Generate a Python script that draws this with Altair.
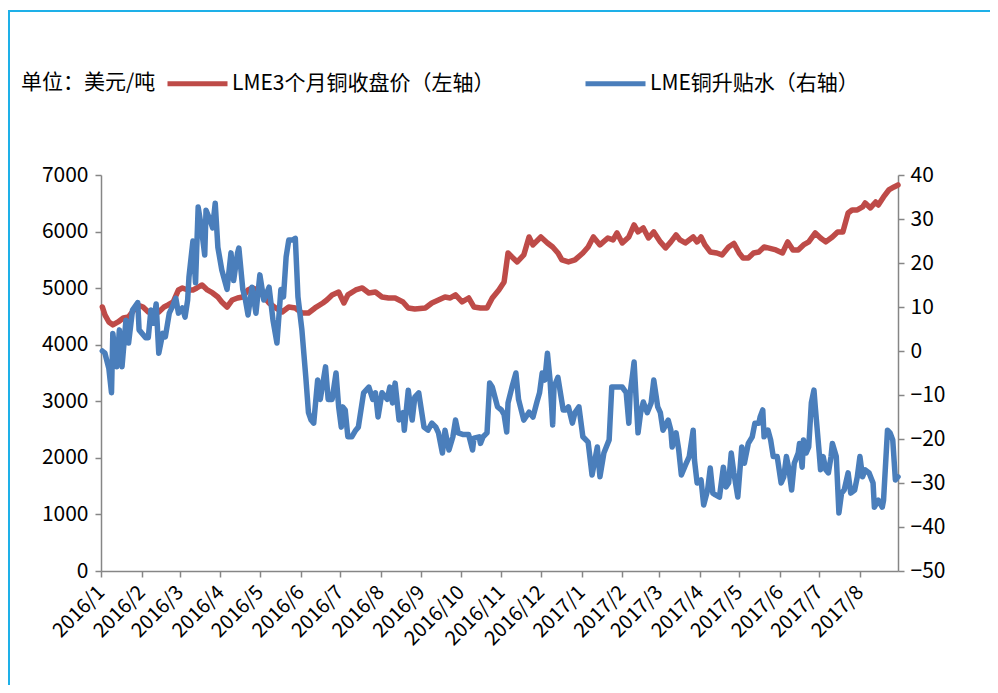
import altair as alt
import pandas as pd

START = pd.Timestamp("2016-01-01")

# LME 3-month copper close (USD/t) - days since 2016-01-01 and values
price_day = [1, 3, 6, 9, 13, 17, 21, 25, 28, 32, 36, 40, 44, 48, 51, 55, 59, 62, 66, 70,
             73, 77, 81, 85, 89, 92, 96, 100, 104, 108, 112, 115, 120, 123, 128, 133, 138, 143, 148, 153,
             158, 163, 169, 172, 176, 181, 185, 188, 194, 199, 204, 209, 214, 219, 224, 230, 234, 239, 247, 252,
             257, 262, 266, 270, 275, 280, 284, 289, 294, 298, 303, 307, 310, 313, 317, 322, 326, 329, 335, 340,
             344, 348, 351, 356, 361, 367, 371, 375, 380, 386, 390, 393, 397, 402, 406, 409, 413, 417, 421, 426,
             430, 434, 438, 441, 445, 451, 454, 457, 460, 464, 469, 473, 478, 482, 486, 489, 493, 497, 501, 505,
             508, 514, 519, 523, 527, 531, 535, 539, 544, 548, 552, 557, 561, 565, 569, 572, 576, 580, 582, 586,
             590, 592, 596, 600, 604, 607]
price_val = [4667, 4526, 4402, 4350, 4402, 4473, 4490, 4614, 4703, 4667, 4579, 4561, 4579, 4667, 4703, 4756, 4968, 5003, 4968, 4968,
             5003, 5056, 4968, 4915, 4844, 4756, 4667, 4791, 4826, 4844, 4968, 5003, 4968, 4880, 4738, 4650, 4579, 4667, 4650, 4561,
             4561, 4650, 4738, 4791, 4880, 4932, 4738, 4880, 4968, 5003, 4915, 4932, 4844, 4826, 4826, 4756, 4650, 4632, 4650, 4738,
             4791, 4844, 4826, 4880, 4756, 4826, 4667, 4650, 4650, 4826, 4968, 5110, 5622, 5552, 5463, 5587, 5905, 5764, 5905, 5799,
             5728, 5622, 5499, 5463, 5499, 5622, 5728, 5905, 5764, 5887, 5852, 5976, 5799, 5905, 6117, 5994, 6064, 5887, 5994, 5817,
             5711, 5817, 5941, 5852, 5799, 5905, 5817, 5905, 5764, 5640, 5622, 5587, 5728, 5790, 5622, 5534, 5534, 5622, 5640, 5728,
             5711, 5675, 5622, 5817, 5675, 5675, 5764, 5817, 5976, 5887, 5817, 5905, 5994, 5994, 6329, 6382, 6382, 6435, 6506, 6418,
             6523, 6470, 6612, 6735, 6789, 6824]

# LME copper cash-3M spread (right axis) - days since 2016-01-01 and values
basis_day = [1, 3, 6, 8, 9, 12, 14, 16, 19, 21, 24, 28, 29, 34, 36, 38, 40, 42, 44, 47,
             49, 52, 55, 57, 59, 62, 64, 66, 67, 70, 72, 74, 76, 79, 80, 83, 85, 87, 89, 92,
             96, 99, 101, 104, 105, 108, 110, 112, 115, 118, 121, 124, 128, 131, 134, 137, 139, 141, 143, 146,
             148, 150, 153, 156, 158, 160, 162, 165, 167, 171, 173, 176, 179, 181, 183, 184, 186, 188, 191, 194,
             196, 200, 204, 207, 209, 211, 214, 218, 220, 222, 224, 227, 230, 231, 234, 237, 239, 242, 246, 249,
             252, 255, 257, 260, 262, 265, 268, 270, 272, 276, 280, 283, 284, 288, 289, 291, 294, 296, 298, 302,
             305, 307, 309, 310, 313, 316, 318, 322, 326, 329, 332, 334, 336, 338, 340, 342, 344, 345, 348, 352,
             354, 356, 359, 361, 364, 367, 371, 374, 378, 380, 383, 387, 389, 392, 397, 400, 402, 403, 405, 406,
             409, 411, 413, 416, 419, 421, 424, 426, 428, 432, 434, 435, 438, 440, 442, 445, 448, 451, 452, 454,
             457, 459, 462, 464, 466, 468, 471, 474, 476, 478, 480, 482, 485, 488, 490, 493, 496, 498, 501, 502,
             504, 505, 508, 510, 512, 515, 518, 520, 522, 524, 526, 528, 531, 532, 534, 535, 537, 539, 541, 543,
             544, 547, 548, 550, 552, 554, 556, 557, 560, 562, 564, 566, 569, 571, 574, 576, 578, 580, 582, 585,
             588, 589, 592, 595, 596, 599, 601, 603, 605, 607]
basis_val = [0, -0.5, -4, -9.5, 4, -3.6, 4.8, -3.6, 7, 1.8, 9.3, 11, 4.8, 3, 3, 9.3, 6.3, 10.7, -0.5, 4,
             3.2, 8.6, 10.5, 12, 8.6, 9.8, 7.7, 11.6, 16.8, 25, 15.5, 32.7, 29, 21.8, 32, 29.8, 28, 33.6, 23.6, 18.4,
             14, 22.3, 16, 22.3, 23.4, 14, 11.6, 8.2, 14.5, 8.6, 17.3, 11.6, 14.5, 7, 1.8, 14, 12.3, 21.4, 25.2, 25.2,
             25.6, 12.3, 4.8, -6, -14, -15.7, -16.4, -6.6, -11, -3.6, -11, -11, -5, -12.7, -17.3, -12.7, -13.4, -19.5, -19.5, -18,
             -17.3, -9.5, -8.2, -11, -9.5, -15, -9.5, -11, -8.2, -11.8, -7.3, -15.7, -14, -18, -8.9, -15.7, -10.5, -9.5, -17.3, -18,
             -16.4, -17.3, -18.6, -23.2, -18, -22.5, -19.5, -15.7, -18.6, -19, -19, -22.5, -19.8, -19.5, -21, -19.5, -18.6, -7.3, -8.2, -12.7,
             -13.4, -14.5, -18.4, -11.8, -8.2, -5, -11, -15.7, -13.9, -15, -11.6, -9.5, -5, -6.6, -0.5, -6.6, -16.8, -8.2, -6, -13.4,
             -13.4, -12.7, -16.4, -14, -12.7, -19.5, -20.7, -28.2, -21.8, -28.6, -23.2, -20.2, -8.2, -8.2, -8.2, -9.5, -16.4, -9.5, -5, -2.5,
             -18.6, -14, -11.6, -14, -11.8, -6.6, -12.7, -14, -18, -15.7, -18, -21.8, -18.6, -22.5, -28.2, -26, -24, -18, -24.8, -30,
             -29.3, -35, -31.6, -26.6, -32.3, -32.7, -33.2, -26.4, -30.9, -30, -23.2, -27.7, -33.2, -21.8, -25.5, -21, -19.5, -16.4, -16.4, -15,
             -13.4, -19.5, -18, -20.2, -24, -24, -30, -28.6, -24, -27, -31.6, -25.5, -23.2, -21, -26.4, -20.2, -23.2, -21.8, -11.8, -8.9,
             -12.7, -23.2, -27, -24, -27, -27.7, -24, -21, -24, -36.8, -32.3, -31.6, -27.7, -32.3, -31.6, -28.6, -24, -28.6, -27, -27.7,
             -30, -35.5, -33.9, -35.5, -33.9, -18, -18.6, -20.2, -29.3, -28.6]

S_PRICE = "LME3个月铜收盘价（左轴）"
S_BASIS = "LME铜升贴水（右轴）"
UNIT = "单位：美元/吨"
left_ticks = [0, 1000, 2000, 3000, 4000, 5000, 6000, 7000]
right_ticks = [-50, -40, -30, -20, -10, 0, 10, 20, 30, 40]

df_p = pd.DataFrame({"date": START + pd.to_timedelta(price_day, unit="D"),
                     "price": price_val, "series": S_PRICE})
df_b = pd.DataFrame({"date": START + pd.to_timedelta(basis_day, unit="D"),
                     "basis": basis_val, "series": S_BASIS})

FONT = "Noto Sans CJK SC"
RED = "#BE4B48"
BLUE = "#4A7EBB"

x_scale = alt.Scale(domain=[alt.DateTime(year=2016, month=1, date=1),
                            alt.DateTime(year=2017, month=8, date=30)])
x_axis = alt.Axis(title=None, format="%Y/%-m",
                  tickCount={"interval": "month", "step": 1},
                  labelAngle=-45, labelAlign="right", labelBaseline="middle",
                  labelPadding=12, labelFontSize=20, labelOverlap=False)

color = alt.Color("series:N",
                  scale=alt.Scale(domain=[S_PRICE, S_BASIS], range=[RED, BLUE]),
                  legend=alt.Legend(title=UNIT, orient="none", legendX=-80, legendY=-124,
                                    direction="horizontal", columns=2,
                                    titleOrient="left", titleFontSize=21, titleFont=FONT,
                                    titleFontWeight="normal", titleColor="#000000",
                                    titlePadding=9, titleAnchor="middle", titleBaseline="top",
                                    labelFontSize=21, labelFont=FONT, labelColor="#000000",
                                    labelLimit=400, labelOffset=2,
                                    symbolType="stroke", symbolSize=3600, symbolStrokeWidth=5,
                                    columnPadding=80, padding=0))

frame = alt.Chart(alt.Data(values=[{}])).mark_rect(
    filled=False, stroke="#1EB0E8", strokeWidth=2
).encode(x=alt.value(-92), x2=alt.value(905), y=alt.value(-164), y2=alt.value(540))

red = alt.Chart(df_p).mark_line(strokeWidth=5.5, strokeJoin="round", strokeCap="round").encode(
    x=alt.X("date:T", scale=x_scale, axis=x_axis),
    y=alt.Y("price:Q", scale=alt.Scale(domain=[0, 7000], nice=False),
            axis=alt.Axis(title=None, orient="left", values=left_ticks, format="d", labelPadding=7)),
    color=color,
)

blue = alt.Chart(df_b).mark_line(strokeWidth=5.5, strokeJoin="round", strokeCap="round").encode(
    x=alt.X("date:T", scale=x_scale, axis=x_axis),
    y=alt.Y("basis:Q", scale=alt.Scale(domain=[-50, 40], nice=False),
            axis=alt.Axis(title=None, orient="right", values=right_ticks, format="d", labelPadding=6)),
    color=color,
)

chart = alt.layer(frame, red, blue).resolve_scale(y="independent").properties(
    width=797, height=396,
    padding={"left": 93, "top": 167, "right": 92, "bottom": 114},
    autosize=alt.AutoSizeParams(type="none"),
    background="white",
).configure_view(stroke=None).configure_axis(
    grid=False, domainColor="#868686", tickColor="#868686", domainWidth=1.5, tickWidth=1.5,
    tickSize=6, labelFont=FONT, labelFontSize=21, labelColor="#000000",
)

chart.save("out.html", embed_options={"renderer": "svg", "actions": False})
